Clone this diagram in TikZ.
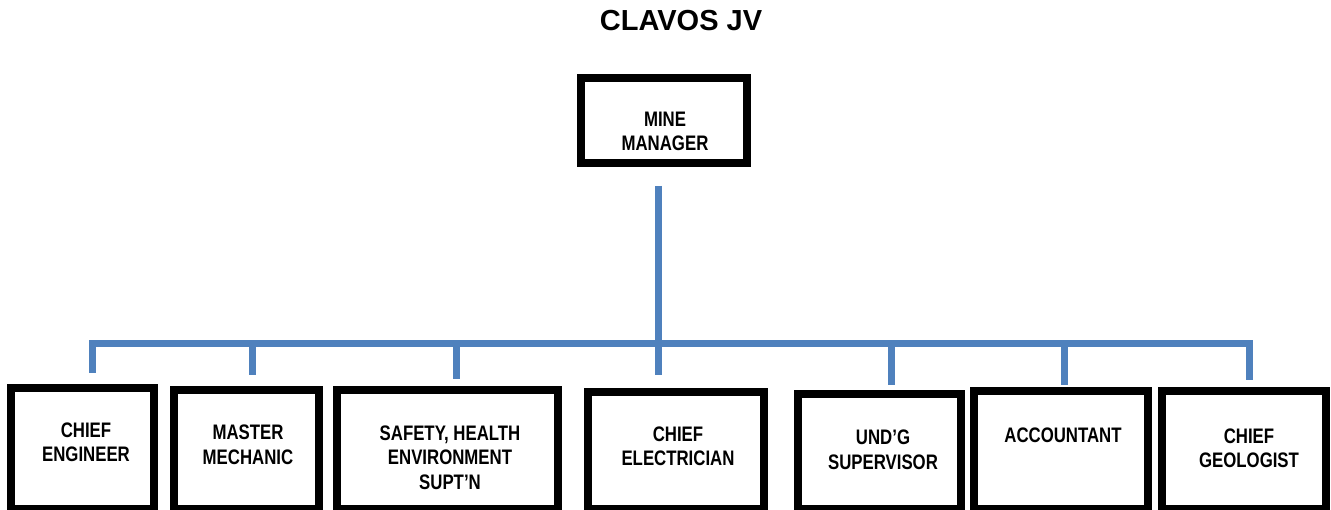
\documentclass[tikz,border=0pt]{standalone}
\usepackage{fontspec}
\setmainfont{Liberation Sans}
\newfontfamily\boxfont{Liberation Sans}[FakeStretch=0.8]
\definecolor{linkblue}{HTML}{4F81BD}
\begin{document}
\begin{tikzpicture}[x=1pt,y=1pt,
  box/.style={draw=black,line width=8pt,inner sep=0pt,rectangle},
  lbl/.style={align=center,inner sep=0pt,font=\boxfont\bfseries\fontsize{21}{24.5}\selectfont},
  conn/.style={draw=linkblue,line width=7pt,line join=miter}]
\useasboundingbox[fill=white] (0,0) rectangle (1331,-510);
% title
\node[font=\bfseries\fontsize{29}{31}\selectfont,inner sep=0pt] (title) at (681,-20.5) {CLAVOS JV};
% boxes
\node[box,minimum width=166pt,minimum height=85pt] (mgr) at (664,-120.5) {};
\node[box,minimum width=143pt,minimum height=121pt] (eng) at (82.5,-448.5) {};
\node[box,minimum width=145pt,minimum height=119pt] (mech) at (246.5,-449.5) {};
\node[box,minimum width=221pt,minimum height=119pt] (safe) at (447.5,-449.5) {};
\node[box,minimum width=176pt,minimum height=117pt] (elec) at (676,-450.5) {};
\node[box,minimum width=163pt,minimum height=115pt] (und) at (879.5,-451.5) {};
\node[box,minimum width=174pt,minimum height=118pt] (acct) at (1061,-450) {};
\node[box,minimum width=164pt,minimum height=118pt] (geo) at (1244,-450) {};
% labels
\node[lbl] (mgrt) at (665,-131.5) {MINE\\MANAGER};
\node[lbl] (engt) at (86,-442.5) {CHIEF\\ENGINEER};
\node[lbl] (mecht) at (248,-445) {MASTER\\MECHANIC};
\node[lbl] (safet) at (450,-457.5) {SAFETY, HEALTH\\ENVIRONMENT\\SUPT’N};
\node[lbl] (elect) at (678,-446.5) {CHIEF\\ELECTRICIAN};
\node[lbl] (undt) at (883,-450) {UND’G\\SUPERVISOR};
\node[lbl] (acctt) at (1063,-435) {ACCOUNTANT};
\node[lbl] (geot) at (1249,-448.5) {CHIEF\\GEOLOGIST};
% connector coordinates
\coordinate (mgrlink) at (658.5,-186);
\coordinate (bus) at (658.5,-343.5);
\coordinate (engT) at (92,-343.5);   \coordinate (engB) at (92,-373);
\coordinate (mechT) at (252,-343.5); \coordinate (mechB) at (252,-375);
\coordinate (safeT) at (456,-343.5); \coordinate (safeB) at (456,-379);
\coordinate (elecB) at (658.5,-375);
\coordinate (undT) at (891,-343.5);  \coordinate (undB) at (891,-385);
\coordinate (acctT) at (1064,-343.5);\coordinate (acctB) at (1064,-385);
\coordinate (geoT) at (1249,-343.5); \coordinate (geoB) at (1249,-380);
% connectors
\draw[conn] (mgrlink) -- (bus);
\draw[conn] (engB) -- (engT) -- (geoT) -- (geoB);
\draw[conn] (mechT) -- (mechB);
\draw[conn] (safeT) -- (safeB);
\draw[conn] (bus) -- (elecB);
\draw[conn] (undT) -- (undB);
\draw[conn] (acctT) -- (acctB);
\end{tikzpicture}
\end{document}
